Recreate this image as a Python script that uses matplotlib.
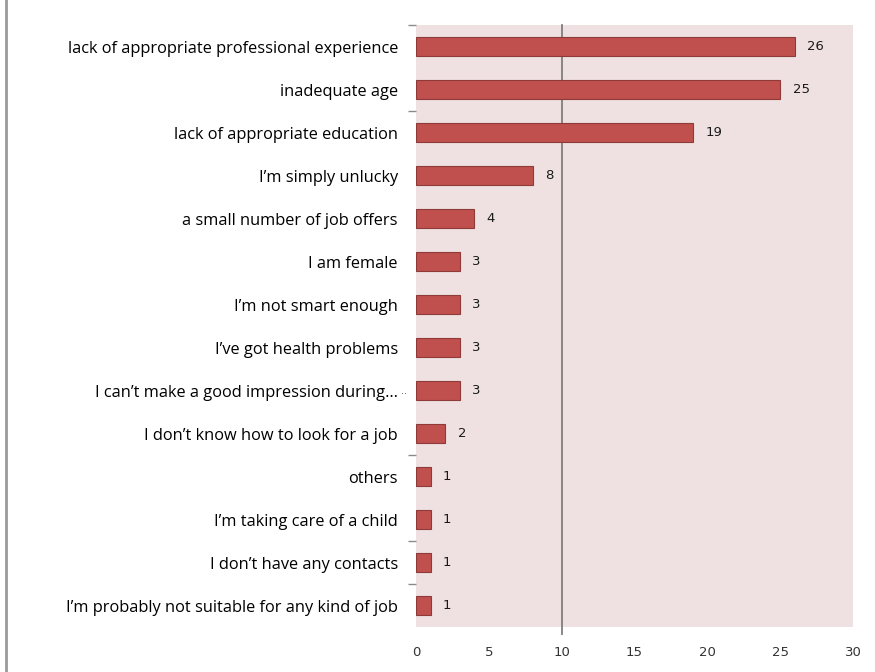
import matplotlib
matplotlib.use("Agg")
import matplotlib.pyplot as plt
from matplotlib.lines import Line2D
import numpy as np

categories = [
    "lack of appropriate professional experience",
    "inadequate age",
    "lack of appropriate education",
    "I\u2019m simply unlucky",
    "a small number of job offers",
    "I am female",
    "I\u2019m not smart enough",
    "I\u2019ve got health problems",
    "I can\u2019t make a good impression during\u2026",
    "I don\u2019t know how to look for a job",
    "others",
    "I\u2019m taking care of a child",
    "I don\u2019t have any contacts",
    "I\u2019m probably not suitable for any kind of job",
]
values = [26, 25, 19, 8, 4, 3, 3, 3, 3, 2, 1, 1, 1, 1]
x_ticks = [0, 5, 10, 15, 20, 25, 30]
boundary_ticks = [0, 2, 10, 12, 13]

fig = plt.figure(figsize=(8.75, 6.72), dpi=100)
ax = fig.add_axes([416 / 875, 45 / 672, 437 / 875, 602 / 672])
ax.set_facecolor("#efe1e1")

n = len(categories)
y = np.arange(n)
ax.barh(y, values, height=0.43, color="#c0504d", edgecolor="#8e3a38", linewidth=0.8, zorder=3)

for yi, v in zip(y, values):
    ax.text(v + 0.85, yi, str(v), va="center", ha="left", fontsize=9.5,
            color="#1a1a1a", family="DejaVu Sans", zorder=4)

ax.set_xlim(0, 30)
ax.set_ylim(n - 0.5, -0.5)

ax.axvline(10, ymin=-0.012, ymax=1.0, color="#7f7f7f", linewidth=1.3, clip_on=False, zorder=2)

for s in ax.spines.values():
    s.set_visible(False)

ax.set_xticks(x_ticks)
ax.set_xticklabels([str(t) for t in x_ticks], fontsize=9.5, color="#333333", family="DejaVu Sans")
ax.tick_params(axis="x", length=0, pad=14)

ax.set_yticks(y)
ax.set_yticklabels(categories, fontsize=11.8, color="#000000", family="Open Sans")
ax.tick_params(axis="y", which="major", length=0, pad=13)
ax.set_yticks([b - 0.5 for b in boundary_ticks], minor=True)
ax.tick_params(axis="y", which="minor", length=6, width=1, color="#8a8a8a", pad=2)

ax.text(-0.6, 8, "..", ha="right", va="center", fontsize=7, color="#555555", clip_on=False)

fig.add_artist(Line2D([6 / 875, 6 / 875], [0.0, 1.0], transform=fig.transFigure,
                      color="#9a9a9a", linewidth=2))

fig.savefig("out.png", dpi=100, facecolor="white")
